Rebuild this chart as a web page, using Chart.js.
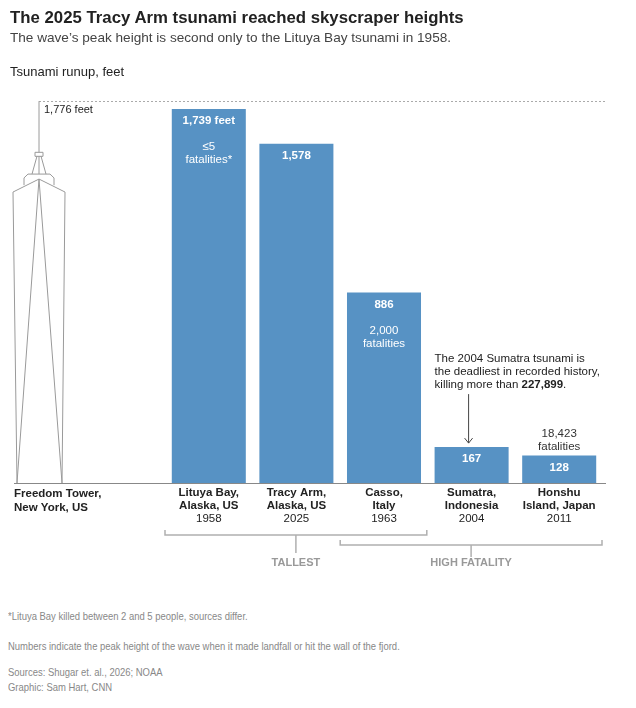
<!DOCTYPE html>
<html>
<head>
<meta charset="utf-8">
<script src="https://cdn.jsdelivr.net/npm/chart.js@4"></script>
<style>
  body { margin: 0; background: #fff; font-family: "Liberation Sans", Arial, sans-serif; }
  #wrap { position: relative; width: 636px; height: 708px; overflow: hidden; }
  #chart { position: absolute; left: 0; top: 0; }
  .txt { position: absolute; left: 10px; white-space: nowrap; }
  .title { top: 7px; font-size: 16.8px; font-weight: bold; color: #222; line-height: 22px; }
  .sub { top: 29px; font-size: 13.6px; color: #444; line-height: 18px; }
  .unit { top: 63px; font-size: 13px; color: #222; line-height: 18px; }
  .note { left: 8px; font-size: 11px; color: #888; line-height: 15px; transform: scaleX(0.86); transform-origin: left top; }
</style>
</head>
<body>
<div id="wrap">
  <canvas id="chart" width="636" height="600"></canvas>
  <div class="txt title">The 2025 Tracy Arm tsunami reached skyscraper heights</div>
  <div class="txt sub">The wave’s peak height is second only to the Lituya Bay tsunami in 1958.</div>
  <div class="txt unit">Tsunami runup, feet</div>
  <div class="txt note" style="top:609px">*Lituya Bay killed between 2 and 5 people, sources differ.</div>
  <div class="txt note" style="top:639px">Numbers indicate the peak height of the wave when it made landfall or hit the wall of the fjord.</div>
  <div class="txt note" style="top:665px">Sources: Shugar et. al., 2026; NOAA<br>Graphic: Sam Hart, CNN</div>
</div>
<script>
// data
const places = [['Lituya Bay,', 'Alaska, US'], ['Tracy Arm,', 'Alaska, US'], ['Casso,', 'Italy'], ['Sumatra,', 'Indonesia'], ['Honshu', 'Island, Japan']];
const years = ['1958', '2025', '1963', '2004', '2011'];
const runupFeet = [1739, 1578, 886, 167, 128];
const valueLabels = ['1,739 feet', '1,578', '886', '167', '128'];
const fatalityLabels = [['≤5', 'fatalities*'], [], ['2,000', 'fatalities'], [], ['18,423', 'fatalities']];
const towerName = ['Freedom Tower,', 'New York, US'];
const towerFeet = 1776;
const towerLabel = '1,776 feet';
const groupNames = ['TALLEST', 'HIGH FATALITY'];
const groupFrom = [0, 2];
const groupTo = [2, 4];
const sumatraNote = ['The 2004 Sumatra tsunami is', 'the deadliest in recorded history,', 'killing more than '];
const sumatraDeaths = '227,899';

const FONT = '"Liberation Sans", Arial, sans-serif';
const BAR = '#5792c4';
const GREY = '#9a9a9a';
const INK = '#222';

const towerX = 39;

const extras = {
  id: 'extras',
  afterDatasetsDraw(chart) {
    const ctx = chart.ctx;
    const x = chart.scales.x, y = chart.scales.y;
    const base = y.getPixelForValue(0);
    const top = y.getPixelForValue(towerFeet);
    const H = base - top;
    const bars = chart.getDatasetMeta(0).data;
    ctx.save();

    // baseline
    ctx.strokeStyle = '#888';
    ctx.lineWidth = 1;
    ctx.beginPath();
    ctx.moveTo(14, Math.round(base) + 0.5);
    ctx.lineTo(x.right + 3, Math.round(base) + 0.5);
    ctx.stroke();

    // dashed 1,776 ft line
    ctx.strokeStyle = '#aaa';
    ctx.setLineDash([2, 2]);
    ctx.beginPath();
    ctx.moveTo(towerX, Math.round(top) + 0.5);
    ctx.lineTo(x.right + 3, Math.round(top) + 0.5);
    ctx.stroke();
    ctx.setLineDash([]);

    // tower outline
    const P = (dx, f) => [towerX + dx, base - f * H];
    const seg = (a, b) => { ctx.moveTo(a[0], a[1]); ctx.lineTo(b[0], b[1]); };
    ctx.strokeStyle = GREY;
    ctx.beginPath();
    const bl = P(-22, 0), br = P(23, 0), tl = P(-26, 0.762), tr = P(26, 0.762), pk = P(0, 0.796);
    seg(tl, bl); seg(tr, br);
    seg(tl, pk); seg(pk, tr);
    seg(pk, bl); seg(pk, br);
    ctx.moveTo(...P(-15, 0.780)); ctx.lineTo(...P(-15, 0.799)); ctx.lineTo(...P(-11, 0.809));
    ctx.lineTo(...P(11, 0.809)); ctx.lineTo(...P(15, 0.799)); ctx.lineTo(...P(15, 0.780));
    seg(P(-7, 0.809), P(-2, 0.856)); seg(P(7, 0.809), P(2, 0.856)); seg(P(0, 0.809), P(0, 0.856));
    ctx.rect(towerX - 4, base - 0.866 * H, 8, 4);
    seg(P(0, 0.866), P(0, 1));
    ctx.stroke();

    ctx.fillStyle = INK;
    ctx.font = '11px ' + FONT;
    ctx.textAlign = 'left';
    ctx.textBaseline = 'middle';
    ctx.fillText(towerLabel, towerX + 5, top + 9);

    ctx.font = 'bold 11.5px ' + FONT;
    ctx.fillText(towerName[0], 14, base + 11);
    ctx.fillText(towerName[1], 14, base + 25);

    // bar labels
    bars.forEach((b, i) => {
      const cx = b.x;
      ctx.textAlign = 'center';
      ctx.fillStyle = '#fff';
      ctx.font = 'bold 11.5px ' + FONT;
      ctx.fillText(valueLabels[i], cx, b.y + 12);
      const f = fatalityLabels[i];
      if (f.length) {
        const inside = b.height > 60;
        ctx.font = '11.5px ' + FONT;
        ctx.fillStyle = inside ? '#fff' : '#333';
        const y0 = inside ? b.y + 38 : b.y - 22;
        f.forEach((t, k) => ctx.fillText(t, cx, y0 + k * 13));
      }
      // category labels
      ctx.fillStyle = INK;
      ctx.font = 'bold 11.5px ' + FONT;
      ctx.fillText(places[i][0], cx, base + 10);
      ctx.fillText(places[i][1], cx, base + 23);
      ctx.font = '11.5px ' + FONT;
      ctx.fillText(years[i], cx, base + 36);
    });

    // brackets
    const step = bars[1].x - bars[0].x;
    ctx.strokeStyle = '#b0b0b0';
    ctx.lineWidth = 1.5;
    groupNames.forEach((g, k) => {
      const x0 = bars[groupFrom[k]].x - step / 2;
      const x1 = bars[groupTo[k]].x + step / 2 - 1;
      const yb = base + 52 + k * 10;
      const mid = (x0 + x1) / 2;
      ctx.beginPath();
      ctx.moveTo(x0, yb - 5); ctx.lineTo(x0, yb); ctx.lineTo(x1, yb); ctx.lineTo(x1, yb - 5);
      ctx.moveTo(mid, yb); ctx.lineTo(mid, base + 70 + k * 4);
      ctx.stroke();
      ctx.fillStyle = '#999';
      ctx.font = 'bold 11px ' + FONT;
      ctx.textAlign = 'center';
      ctx.fillText(g, mid, base + 80);
    });

    // Sumatra annotation
    const s = bars[3];
    const ax = s.x - s.width / 2;
    ctx.textAlign = 'left';
    ctx.fillStyle = INK;
    ctx.font = '11.5px ' + FONT;
    sumatraNote.forEach((t, k) => ctx.fillText(t, ax, s.y - 88 + k * 13));
    const w = ctx.measureText(sumatraNote[2]).width;
    ctx.font = 'bold 11.5px ' + FONT;
    ctx.fillText(sumatraDeaths, ax + w, s.y - 62);
    const w2 = ctx.measureText(sumatraDeaths).width;
    ctx.font = '11.5px ' + FONT;
    ctx.fillText('.', ax + w + w2, s.y - 62);
    ctx.strokeStyle = '#444';
    ctx.lineWidth = 1;
    ctx.beginPath();
    ctx.moveTo(s.x - 3, s.y - 53); ctx.lineTo(s.x - 3, s.y - 4);
    ctx.moveTo(s.x - 7, s.y - 9); ctx.lineTo(s.x - 3, s.y - 4); ctx.lineTo(s.x + 1, s.y - 9);
    ctx.stroke();

    ctx.restore();
  }
};

new Chart(document.getElementById('chart'), {
  type: 'bar',
  data: {
    labels: places.map(p => p.join(' ')),
    datasets: [{
      data: runupFeet,
      backgroundColor: BAR,
      borderWidth: 0,
      barPercentage: 1,
      categoryPercentage: 0.845
    }]
  },
  options: {
    responsive: false,
    animation: false,
    layout: { padding: { left: 165, right: 33, top: 96, bottom: 117 } },
    plugins: { legend: { display: false }, tooltip: { enabled: false } },
    scales: {
      x: { display: false },
      y: { display: false, min: 0, max: 1800 }
    }
  },
  plugins: [extras]
});
</script>
</body>
</html>
